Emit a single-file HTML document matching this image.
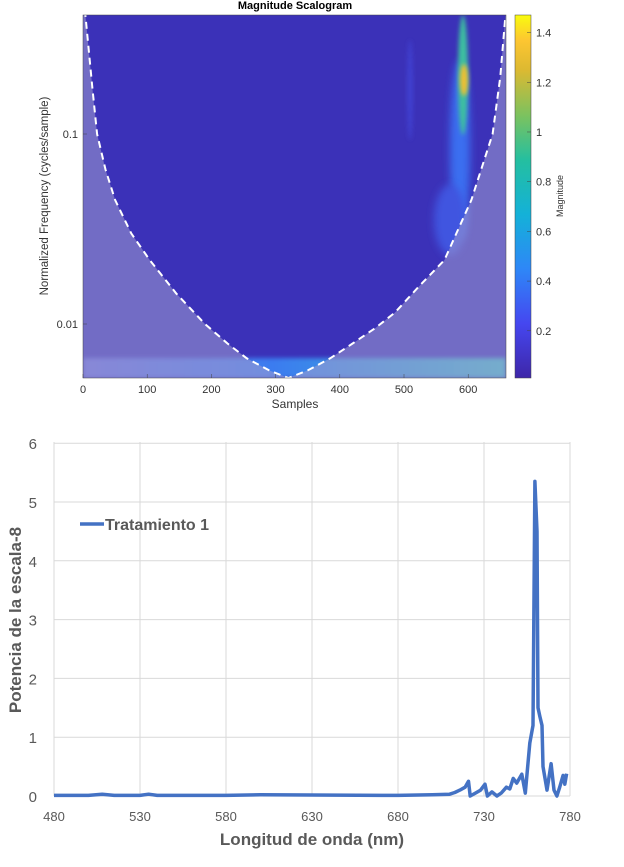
<!DOCTYPE html>
<html><head><meta charset="utf-8">
<style>
body{margin:0;background:#fff;width:624px;height:867px;overflow:hidden;font-family:"Liberation Sans",sans-serif}
svg{position:absolute;left:0;top:0}
</style></head>
<body>
<svg id="s" width="624" height="867">
<defs>
<filter id="bl" x="-50%" y="-50%" width="200%" height="200%"><feGaussianBlur stdDeviation="4"/></filter>
<filter id="bl2" x="-50%" y="-50%" width="200%" height="200%"><feGaussianBlur stdDeviation="2"/></filter>
<linearGradient id="cb" x1="0" y1="1" x2="0" y2="0">
<stop offset="0" stop-color="#3e26a8"/><stop offset="0.15" stop-color="#4547f0"/><stop offset="0.3" stop-color="#2e87f7"/>
<stop offset="0.45" stop-color="#14b1d8"/><stop offset="0.6" stop-color="#24bfa0"/><stop offset="0.72" stop-color="#79c260"/>
<stop offset="0.85" stop-color="#ddb931"/><stop offset="0.93" stop-color="#fdc631"/><stop offset="1" stop-color="#f9fb0e"/>
</linearGradient>
<linearGradient id="bot" x1="0" y1="0" x2="1" y2="0">
<stop offset="0" stop-color="#6a6ee0"/><stop offset="0.45" stop-color="#3a7cf0"/><stop offset="1" stop-color="#40c0c8"/>
</linearGradient>
<clipPath id="pc"><rect x="83" y="15" width="423" height="363"/></clipPath>
</defs>
<text x="295" y="9" font-size="11" font-weight="bold" text-anchor="middle">Magnitude Scalogram</text>
<g clip-path="url(#pc)">
<rect x="83" y="15" width="423" height="363" fill="#3b31b8"/>
<rect x="83" y="358" width="423" height="20" fill="url(#bot)" filter="url(#bl2)"/>
<ellipse cx="460" cy="150" rx="10" ry="90" fill="#3a6ef0" filter="url(#bl)"/>
<ellipse cx="450" cy="220" rx="16" ry="35" fill="#3f55e0" filter="url(#bl)"/>
<ellipse cx="463" cy="75" rx="5" ry="60" fill="#3cbfa0" filter="url(#bl2)"/>
<ellipse cx="464" cy="80" rx="4" ry="16" fill="#f0c030" filter="url(#bl2)"/>
<ellipse cx="410" cy="90" rx="3" ry="50" fill="#4140d0" filter="url(#bl2)"/>
<path id="outside" fill="#a09cd0" fill-opacity="0.55"/>
<path id="cone" fill="none" stroke="#fff" stroke-width="2" stroke-dasharray="7,5"/>
</g>
<rect x="83" y="15" width="423" height="363" fill="none" stroke="#444" stroke-width="0.5"/>
<rect x="515" y="15" width="16" height="363" fill="url(#cb)" stroke="#444" stroke-width="0.5"/>
<g id="g1" font-size="11" fill="#333"></g>
<text x="295" y="408" font-size="12" text-anchor="middle" fill="#333">Samples</text>
<text transform="translate(48,196) rotate(-90)" font-size="11.5" text-anchor="middle" fill="#333">Normalized Frequency  (cycles/sample)</text>
<text transform="translate(563,196) rotate(-90)" font-size="9" text-anchor="middle" fill="#333">Magnitude</text>
<g id="g2"></g>
<text x="312" y="845" font-size="17" font-weight="bold" fill="#595959" text-anchor="middle">Longitud de onda (nm)</text>
<text transform="translate(21,620) rotate(-90)" font-size="17" font-weight="bold" fill="#595959" text-anchor="middle">Potencia de la escala-8</text>
<line x1="80" y1="524" x2="104" y2="524" stroke="#4472c4" stroke-width="3.5"/>
<text x="105" y="530" font-size="16" font-weight="bold" fill="#595959">Tratamiento 1</text>
</svg>
<script>
const NS="http://www.w3.org/2000/svg";
// top chart data
const sampleTicks=[0,100,200,300,400,500,600];
const freqTicks=[0.1,0.01];
const freqTickLabels=["0.1","0.01"];
const magTicks=[0.2,0.4,0.6,0.8,1,1.2,1.4];
const coneSamples=[3,8,15,22,35,50,75,104,145,190,225,255,290,320,350,385,420,455,486,525,563,605,638,650,658];
const coneFreqs=[0.45,0.3,0.17,0.1,0.065,0.045,0.03,0.0217,0.0145,0.01,0.0079,0.0066,0.0057,0.0052,0.0057,0.0066,0.0079,0.0095,0.0115,0.016,0.0217,0.045,0.1,0.2,0.42];
// bottom chart data
const nmTicks=[480,530,580,630,680,730,780];
const powTicks=[0,1,2,3,4,5,6];
const wl=[480,500,508,515,530,535,540,580,600,680,700,710,713,716,719,721,722,725,728,730.6,732,734.6,737.5,740,743,745,747,749,752,754,756.6,758.5,759.6,760.8,761.4,762.5,763.7,764.3,766.6,769,770.7,772.4,774,776,777,778];
const pw=[0.01,0.01,0.03,0.01,0.01,0.03,0.01,0.01,0.02,0.01,0.02,0.03,0.06,0.1,0.15,0.25,0.0,0.05,0.1,0.2,0.0,0.07,0.0,0.05,0.15,0.12,0.3,0.22,0.37,0.05,0.9,1.2,5.35,4.5,1.5,1.35,1.2,0.5,0.1,0.55,0.1,0.0,0.15,0.35,0.2,0.38];

const xs=v=>83+v*0.642, yf=f=>134-190*Math.log10(f/0.1), yc=m=>378-(m-0.01)*248.5;
const g1=document.getElementById('g1');
function T(p,x,y,t,a,name){const e=document.createElementNS(NS,'text');e.setAttribute('x',x);e.setAttribute('y',y);e.setAttribute('text-anchor',a);e.textContent=t;


p.appendChild(e);return e;}
function L(p,x1,y1,x2,y2,s,w){const e=document.createElementNS(NS,'line');e.setAttribute('x1',x1);e.setAttribute('y1',y1);e.setAttribute('x2',x2);e.setAttribute('y2',y2);e.setAttribute('stroke',s);e.setAttribute('stroke-width',w);p.appendChild(e);return e;}
sampleTicks.forEach(v=>{L(g1,xs(v),378,xs(v),374,'#444',0.5);T(g1,xs(v),393,v,'middle','x-tick-label');});
freqTicks.forEach((f,i)=>{L(g1,83,yf(f),87,yf(f),'#444',0.5);T(g1,78,yf(f)+4,freqTickLabels[i],'end','y-tick-label');});
magTicks.forEach(m=>{L(g1,531,yc(m),527,yc(m),'#444',0.5);T(g1,536,yc(m)+4,m,'start','colorbar-tick-label');});
let d='';coneSamples.forEach((s,i)=>{d+=(i?'L':'M')+xs(s).toFixed(1)+','+yf(coneFreqs[i]).toFixed(1);});
document.getElementById('cone').setAttribute('d',d);
document.getElementById('outside').setAttribute('d','M83,15L'+xs(coneSamples[0]).toFixed(1)+',15'+d.replace('M','L')+'L506,15L506,378L83,378Z');

const g2=document.getElementById('g2');
const xn=v=>54+(v-480)*1.72, yp=v=>796-v*58.8;
nmTicks.forEach(v=>{const l=L(g2,xn(v),442,xn(v),796,'#d9d9d9',1);
const t=T(g2,xn(v),821,v,'middle','x-tick-label-2');t.setAttribute('font-size','13');t.setAttribute('fill','#595959');});
powTicks.forEach(v=>{const l=L(g2,54,yp(v),570,yp(v),'#d9d9d9',1);
const t=T(g2,37,yp(v)+6,v,'end','y-tick-label-2');t.setAttribute('font-size','15');t.setAttribute('fill','#595959');});
const p=document.createElementNS(NS,'path');
p.setAttribute('d',wl.map((w,i)=>(i?'L':'M')+xn(w).toFixed(1)+','+yp(pw[i]).toFixed(1)).join(''));
p.setAttribute('fill','none');p.setAttribute('stroke','#4472c4');p.setAttribute('stroke-width','3.5');p.setAttribute('stroke-linejoin','round');


g2.appendChild(p);
</script>
</body></html>
